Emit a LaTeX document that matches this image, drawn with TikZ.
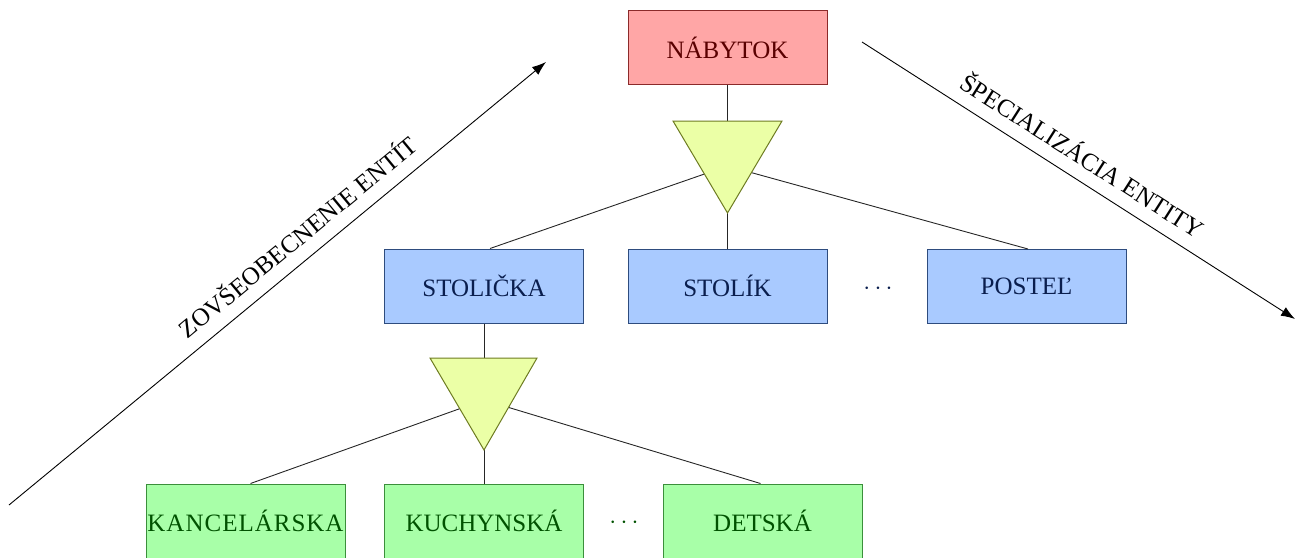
\documentclass[tikz,border=0pt]{standalone}
\usepackage{fontspec}
\setmainfont{Liberation Serif}
\usetikzlibrary{arrows.meta,calc}

\definecolor{redfill}{HTML}{FFA6A6}
\definecolor{redline}{HTML}{8B2A2A}
\definecolor{redtext}{HTML}{5A0000}
\definecolor{bluefill}{HTML}{A9CAFF}
\definecolor{blueline}{HTML}{2E4C7E}
\definecolor{bluetext}{HTML}{0A1E4E}
\definecolor{greenfill}{HTML}{A8FFA8}
\definecolor{greenline}{HTML}{3B8F3B}
\definecolor{greentext}{HTML}{005200}
\definecolor{trifill}{HTML}{EBFFA6}
\definecolor{triline}{HTML}{6E7C22}

\tikzset{
  entity/.style={draw, line width=1pt, minimum width=199pt, minimum height=74pt,
    inner sep=0pt, font=\fontsize{25}{30}\selectfont},
  root/.style={entity, fill=redfill, draw=redline, text=redtext},
  mid/.style={entity, fill=bluefill, draw=blueline, text=bluetext},
  leaf/.style={entity, fill=greenfill, draw=greenline, text=greentext},
  isa/.style={fill=trifill, draw=triline, line width=1pt, line join=miter},
  link/.style={line width=0.9pt, draw=black!85},
  flow/.style={line width=0.9pt, -{Latex[length=14pt,width=10pt]}},
  flowlabel/.style={sloped, above=13pt, inner sep=0pt, font=\fontsize{25}{30}\selectfont},
  more/.style={font=\fontsize{26}{30}\selectfont}
}

\begin{document}
\begin{tikzpicture}[x=1pt,y=-1pt]
  \useasboundingbox (0,0) rectangle (1296,557);

  % entities
  \node[root] (nabytok) at (727.5,47.5) {NÁBYTOK};
  \node[mid]  (stolicka) at (484,286) {STOLIČKA};
  \node[mid]  (stolik) at (727.5,286) {STOLÍK};
  \node[mid]  (postel) at (1026.5,286.5) {POSTEĽ};
  \node[more, text=bluetext] (dots1) at (878,289) {$\cdots$};
  \node[leaf] (kancel) at (245.5,521) {\addfontfeature{LetterSpace=4}KANCELÁRSKA};
  \node[leaf] (kuchyn) at (484,521) {KUCHYNSKÁ};
  \node[leaf] (detska) at (762.5,521) {DETSKÁ};
  \node[more, text=greentext] (dots2) at (624,523) {$\cdots$};

  % corners of the specialisation triangles and the points where links meet
  \coordinate (t1l) at (673,121);
  \coordinate (t1r) at (782,121);
  \coordinate (t1b) at (727.5,213);
  \coordinate (t1c) at (727.5,166);
  \coordinate (t2l) at (430,358);
  \coordinate (t2r) at (537,358);
  \coordinate (t2b) at (484,450);
  \coordinate (t2c) at (484,400);

  % links (drawn first, the triangles cover their inner ends)
  \draw[link] (nabytok.south) -- (nabytok.south |- t1l);
  \draw[link] (t1c) -- ($(stolicka.north)+(6,0)$);
  \draw[link] (t1c) -- (stolik.north);
  \draw[link] (t1c) -- ($(postel.north)+(1.5,0)$);
  \draw[link] (stolicka.south) -- (stolicka.south |- t2l);
  \draw[link] (t2c) -- ($(kancel.north)+(5,0)$);
  \draw[link] (t2c) -- (kuchyn.north);
  \draw[link] (t2c) -- ($(detska.north)+(-2,0)$);

  % triangles
  \draw[isa] (t1l) -- (t1r) -- (t1b) -- cycle;
  \draw[isa] (t2l) -- (t2r) -- (t2b) -- cycle;

  % direction arrows
  \coordinate (g0) at (9,505);
  \coordinate (g1) at (546,62);
  \coordinate (s0) at (862,42);
  \coordinate (s1) at (1295,319);
  \draw[flow] (g0) -- node[flowlabel, pos=0.565] {ZOVŠEOBECNENIE ENTÍT} (g1);
  \draw[flow] (s0) -- node[flowlabel, pos=0.48] {ŠPECIALIZÁCIA ENTITY} (s1);
\end{tikzpicture}
\end{document}
